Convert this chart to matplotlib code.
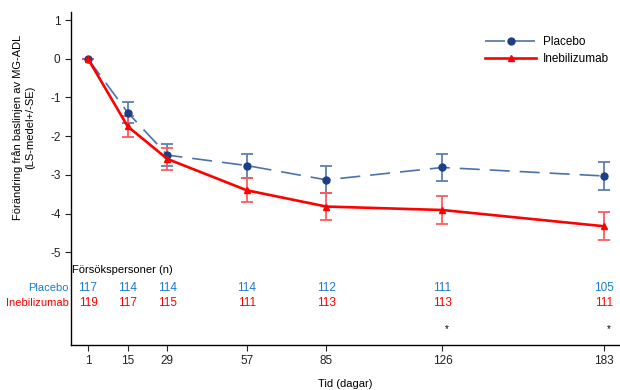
import numpy as np
import matplotlib.pyplot as plt

plt.rcParams['font.family'] = ['Liberation Sans', 'DejaVu Sans']
plt.rcParams['axes.unicode_minus'] = False

# data
days = [1, 15, 29, 57, 85, 126, 183]
placebo = [0, -1.39, -2.49, -2.76, -3.13, -2.81, -3.03]
placebo_se = [0, 0.27, 0.29, 0.31, 0.35, 0.36, 0.37]
ineb = [0, -1.75, -2.59, -3.40, -3.82, -3.91, -4.33]
ineb_se = [0, 0.26, 0.28, 0.31, 0.34, 0.35, 0.36]
n_placebo = [117, 114, 114, 114, 112, 111, 105]
n_ineb = [119, 117, 115, 111, 113, 113, 111]
signif_days = [126, 183]

blue_line = '#4a72ad'
blue_mark = '#1c3f86'
blue_err = '#5a7fb5'
blue_txt = '#1a7ad0'
red = '#ff0000'
red_err = '#ff5a5a'

fig = plt.figure(figsize=(6.2, 3.9), dpi=100)
ax = fig.add_axes([0.1145, 0.1154, 0.8855, 0.8538])

ax.errorbar(days, placebo, yerr=placebo_se, fmt='none', ecolor=blue_err,
            elinewidth=1.3, capsize=4.5, capthick=1.3, zorder=2)
ax.errorbar(days, ineb, yerr=ineb_se, fmt='none', ecolor=red_err,
            elinewidth=1.3, capsize=4.5, capthick=1.3, zorder=2)
ax.plot(days, placebo, color=blue_line, lw=1.2, dashes=(12, 6),
        marker='o', ms=5, mfc=blue_mark, mec=blue_mark, label='Placebo', zorder=3)
ax.plot(days, ineb, color=red, lw=1.9, marker='^', ms=4, mfc=red, mec=red,
        label='Inebilizumab', zorder=4)

ax.set_xlim(-5, 188.6)
ax.set_ylim(-7.40, 1.21)
ax.set_xticks(days)
ax.set_yticks([1, 0, -1, -2, -3, -4, -5])
ax.tick_params(labelsize=8.5, length=4, width=0.8, colors='#222222')
for s in ['top', 'right']:
    ax.spines[s].set_visible(False)
for s in ['left', 'bottom']:
    ax.spines[s].set_linewidth(1.0)

ax.set_ylabel('Förändring från baslinjen av MG-ADL\n(LS-medel+/-SE)', fontsize=8,
              linespacing=1.2)
ax.yaxis.set_label_coords(-0.066, 0.655)
ax.set_xlabel('Tid (dagar)', fontsize=8, labelpad=8)

# number at risk table
ax.text(-4.5, -5.47, 'Försökspersoner (n)', fontsize=8, va='center', ha='left')
ax.text(-5.7, -5.93, 'Placebo', fontsize=8, va='center', ha='right', color=blue_txt)
ax.text(-5.7, -6.32, 'Inebilizumab', fontsize=8, va='center', ha='right', color=red)
for d, a, b in zip(days, n_placebo, n_ineb):
    ax.text(d, -5.93, str(a), fontsize=8.5, va='center', ha='center', color=blue_txt)
    ax.text(d, -6.32, str(b), fontsize=8.5, va='center', ha='center', color=red)
for d in signif_days:
    ax.text(d + 1.5, -7.0, '*', fontsize=7, va='center', ha='center')

ax.legend(loc='upper right', bbox_to_anchor=(1.0, 0.96), frameon=False,
          fontsize=8.5, handlelength=4.3, handletextpad=0.6, labelspacing=0.45)

fig.savefig('out.png', dpi=100)
